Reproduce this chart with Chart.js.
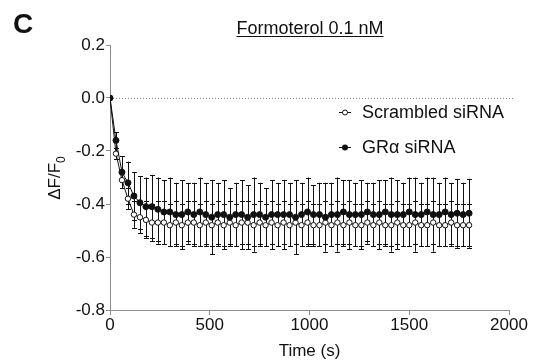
<!DOCTYPE html>
<html>
<head>
<meta charset="utf-8">
<script src="https://cdn.jsdelivr.net/npm/chart.js@4.4.1/dist/chart.umd.min.js"></script>
<style>
  html, body { margin: 0; padding: 0; background: #fff; }
  #wrap { width: 534px; height: 362px; position: relative; }
</style>
</head>
<body>
<div id="wrap"><canvas id="chart" width="534" height="362"></canvas></div>
<script>
// time points (s), one every 30 s
const times = [
    0, 30, 60, 90, 120, 150, 180, 210, 240, 270,
    300, 330, 360, 390, 420, 450, 480, 510, 540, 570,
    600, 630, 660, 690, 720, 750, 780, 810, 840, 870,
    900, 930, 960, 990, 1020, 1050, 1080, 1110, 1140, 1170,
    1200, 1230, 1260, 1290, 1320, 1350, 1380, 1410, 1440, 1470,
    1500, 1530, 1560, 1590, 1620, 1650, 1680, 1710, 1740, 1770, 1800
];

const scrambledMean = [
    0, -0.21, -0.31, -0.38, -0.44, -0.45, -0.46, -0.47, -0.47, -0.47,
    -0.48, -0.47, -0.48, -0.47, -0.47, -0.48, -0.47, -0.48, -0.47, -0.48,
    -0.47, -0.48, -0.47, -0.47, -0.48, -0.47, -0.48, -0.47, -0.48, -0.47,
    -0.48, -0.47, -0.48, -0.47, -0.48, -0.48, -0.47, -0.48, -0.47, -0.48,
    -0.47, -0.48, -0.48, -0.47, -0.48, -0.47, -0.48, -0.48, -0.47, -0.48,
    -0.48, -0.47, -0.48, -0.48, -0.47, -0.48, -0.48, -0.47, -0.48, -0.48, -0.48
];
const scrambledErr = [
    0, 0.02, 0.03, 0.04, 0.05, 0.06, 0.07, 0.07, 0.08, 0.08,
    0.08, 0.08, 0.08, 0.08, 0.08, 0.08, 0.08, 0.08, 0.08, 0.08,
    0.08, 0.08, 0.08, 0.08, 0.08, 0.08, 0.08, 0.08, 0.08, 0.08,
    0.08, 0.08, 0.08, 0.08, 0.08, 0.08, 0.08, 0.08, 0.08, 0.08,
    0.08, 0.08, 0.08, 0.08, 0.08, 0.08, 0.08, 0.08, 0.08, 0.08,
    0.08, 0.08, 0.08, 0.08, 0.08, 0.08, 0.08, 0.08, 0.08, 0.08, 0.08
];

const grMean = [
    0, -0.16, -0.28, -0.32, -0.37, -0.395, -0.41, -0.41, -0.42, -0.43,
    -0.43, -0.44, -0.44, -0.43, -0.44, -0.43, -0.44, -0.45, -0.44, -0.44,
    -0.45, -0.44, -0.44, -0.45, -0.44, -0.44, -0.45, -0.44, -0.44, -0.44,
    -0.44, -0.45, -0.44, -0.43, -0.44, -0.44, -0.45, -0.44, -0.44, -0.43,
    -0.44, -0.44, -0.44, -0.43, -0.44, -0.44, -0.43, -0.44, -0.44, -0.44,
    -0.43, -0.44, -0.44, -0.43, -0.44, -0.44, -0.43, -0.44, -0.435, -0.44, -0.435
];
const grErr = [
    0, 0.03, 0.06, 0.08, 0.09, 0.10, 0.11, 0.12, 0.12, 0.12,
    0.13, 0.12, 0.13, 0.11, 0.12, 0.13, 0.12, 0.14, 0.12, 0.13,
    0.11, 0.12, 0.13, 0.12, 0.14, 0.12, 0.11, 0.13, 0.12, 0.13,
    0.12, 0.14, 0.12, 0.13, 0.11, 0.12, 0.13, 0.12, 0.14, 0.12,
    0.13, 0.12, 0.13, 0.11, 0.12, 0.13, 0.12, 0.14, 0.13, 0.12,
    0.13, 0.14, 0.12, 0.13, 0.14, 0.12, 0.13, 0.12, 0.13, 0.12, 0.13
];

const xTicks = [0, 500, 1000, 1500, 2000];
const yTicks = [0.2, 0.0, -0.2, -0.4, -0.6, -0.8];
const seriesNames = ['Scrambled siRNA', 'GR\u03b1 siRNA'];

const FONT = '"Liberation Sans", Arial, sans-serif';
const AXIS_GRAY = '#8c8c8c';

function toPoints(xs, ys) {
    return xs.map((x, i) => ({ x, y: ys[i] }));
}

// error bars drawn under the markers, through the chart scales
const errorBars = {
    id: 'errorBars',
    beforeDatasetsDraw(chart) {
        const ctx = chart.ctx;
        const xs = chart.scales.x, ys = chart.scales.y;
        const sets = [[scrambledMean, scrambledErr], [grMean, grErr]];
        ctx.save();
        ctx.strokeStyle = '#111';
        ctx.lineWidth = 1;
        sets.forEach(([mean, err]) => {
            times.forEach((t, i) => {
                if (!err[i]) return;
                const px = Math.round(xs.getPixelForValue(t)) + 0.5;
                const top = ys.getPixelForValue(mean[i] + err[i]);
                const bot = ys.getPixelForValue(mean[i] - err[i]);
                ctx.beginPath();
                ctx.moveTo(px, top); ctx.lineTo(px, bot);
                ctx.moveTo(px - 2.5, Math.round(top) + 0.5); ctx.lineTo(px + 2.5, Math.round(top) + 0.5);
                ctx.moveTo(px - 2.5, Math.round(bot) + 0.5); ctx.lineTo(px + 2.5, Math.round(bot) + 0.5);
                ctx.stroke();
            });
        });
        ctx.restore();
    }
};

// dotted baseline, titles, legend
const decorations = {
    id: 'decorations',
    beforeDraw(chart) {
        const ctx = chart.ctx;
        const area = chart.chartArea;
        const y0 = Math.round(chart.scales.y.getPixelForValue(0)) + 0.5;
        ctx.save();
        ctx.strokeStyle = '#888';
        ctx.lineWidth = 1;
        ctx.setLineDash([1, 2]);
        ctx.beginPath();
        ctx.moveTo(area.left, y0);
        ctx.lineTo(area.right + 5, y0);
        ctx.stroke();
        ctx.restore();
    },
    afterDraw(chart) {
        const ctx = chart.ctx;
        const area = chart.chartArea;
        ctx.save();
        ctx.fillStyle = '#111';

        // panel letter
        ctx.font = 'bold 28px ' + FONT;
        ctx.textAlign = 'left';
        ctx.textBaseline = 'alphabetic';
        ctx.fillText('C', 13, 33);

        // title, underlined
        ctx.font = '18px ' + FONT;
        ctx.textAlign = 'center';
        const title = 'Formoterol 0.1 nM';
        const tx = 310, ty = 34;
        ctx.fillText(title, tx, ty);
        const tw = ctx.measureText(title).width;
        ctx.fillRect(tx - tw / 2, ty + 2, tw, 1);

        // x title
        ctx.font = '17px ' + FONT;
        ctx.fillText('Time (s)', (area.left + area.right) / 2, 356);

        // y title with subscript
        ctx.translate(60, 178);
        ctx.rotate(-Math.PI / 2);
        ctx.textAlign = 'left';
        ctx.font = '17px ' + FONT;
        const main = '\u0394F/F';
        const mw = ctx.measureText(main).width;
        ctx.font = '12px ' + FONT;
        const sw = ctx.measureText('0').width;
        const start = -(mw + sw) / 2;
        ctx.font = '17px ' + FONT;
        ctx.fillText(main, start, 0);
        ctx.font = '12px ' + FONT;
        ctx.fillText('0', start + mw, 5);
        ctx.restore();

        // legend
        ctx.save();
        ctx.font = '18px ' + FONT;
        ctx.textBaseline = 'middle';
        ctx.fillStyle = '#111';
        ctx.strokeStyle = '#111';
        const rows = [{ y: 112, open: true }, { y: 147, open: false }];
        rows.forEach((r, i) => {
            ctx.lineWidth = 1;
            ctx.beginPath();
            ctx.moveTo(339, r.y + 0.5); ctx.lineTo(351, r.y + 0.5);
            ctx.stroke();
            ctx.beginPath();
            ctx.arc(345, r.y + 0.5, r.open ? 2.5 : 3, 0, Math.PI * 2);
            if (r.open) { ctx.fillStyle = '#fff'; ctx.fill(); ctx.stroke(); ctx.fillStyle = '#111'; }
            else ctx.fill();
            ctx.fillText(seriesNames[i], 362, r.y + 1);
        });
        ctx.restore();
    }
};

new Chart(document.getElementById('chart'), {
    type: 'line',
    data: {
        datasets: [
            {
                label: seriesNames[1],
                data: toPoints(times, grMean),
                borderColor: '#111',
                borderWidth: 1,
                pointRadius: 3,
                pointBackgroundColor: '#111',
                pointBorderColor: '#111',
                pointBorderWidth: 1,
                tension: 0
            },
            {
                label: seriesNames[0],
                data: toPoints(times, scrambledMean),
                borderColor: '#111',
                borderWidth: 1,
                pointRadius: 2.7,
                pointBackgroundColor: '#fff',
                pointBorderColor: '#111',
                pointBorderWidth: 1,
                tension: 0
            }
        ]
    },
    options: {
        responsive: false,
        animation: false,
        events: [],
        layout: { padding: { top: 45, right: 25, left: 0, bottom: 0 } },
        plugins: {
            legend: { display: false },
            tooltip: { enabled: false }
        },
        scales: {
            x: {
                type: 'linear',
                min: 0,
                max: 2000,
                afterFit: s => { s.height = 52; },
                afterBuildTicks: s => { s.ticks = xTicks.map(v => ({ value: v })); },
                grid: { drawOnChartArea: false, drawTicks: true, tickLength: 5, color: AXIS_GRAY },
                border: { color: AXIS_GRAY, width: 1 },
                ticks: {
                    color: '#111',
                    font: { family: FONT, size: 17 },
                    padding: 0,
                    maxRotation: 0,
                    callback: v => String(v)
                }
            },
            y: {
                min: -0.8,
                max: 0.2,
                afterFit: s => { s.width = 110; },
                afterBuildTicks: s => { s.ticks = yTicks.map(v => ({ value: v })); },
                grid: { drawOnChartArea: false, drawTicks: true, tickLength: 4, color: AXIS_GRAY },
                border: { color: AXIS_GRAY, width: 1 },
                ticks: {
                    color: '#111',
                    font: { family: FONT, size: 17 },
                    padding: 1,
                    callback: v => (Math.abs(v) < 1e-9 ? '0.0' : v.toFixed(1))
                }
            }
        }
    },
    plugins: [errorBars, decorations]
});
</script>
</body>
</html>
